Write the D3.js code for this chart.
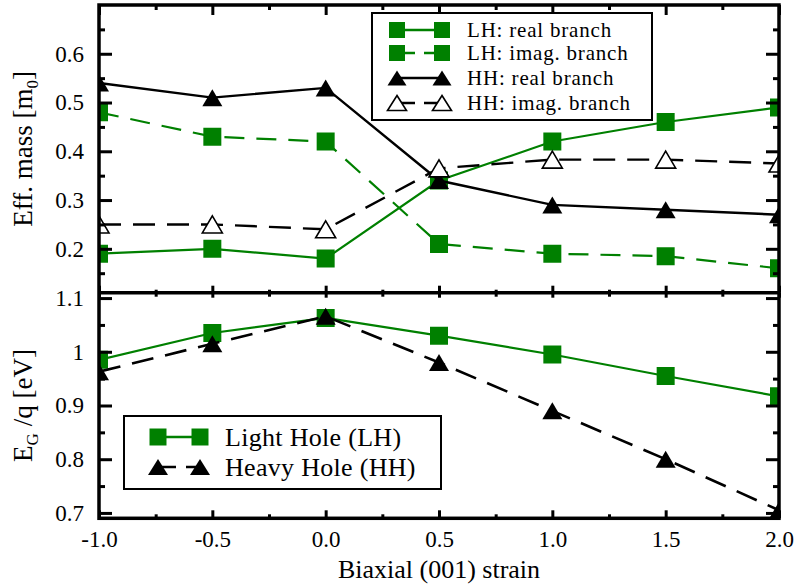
<!DOCTYPE html>
<meta charset="utf-8">
<style>
    body { margin: 0; background: #fff; }
    svg text { font-family: "Liberation Serif", "Times New Roman", serif; fill: #000; }
    .tick text { font-size: 23px; }
    .domain { display: none; }
    .tick line { stroke: #000; stroke-width: 3px; }
</style>
<script src="https://d3js.org/d3.v7.min.js"></script>
<svg width="795" height="587"></svg>
<script>
    // strain values and series
    var strain = [-1.0, -0.5, 0.0, 0.5, 1.0, 1.5, 2.0];
    var lhReal = [0.19, 0.20, 0.18, 0.34, 0.42, 0.46, 0.49];
    var lhImag = [0.48, 0.43, 0.42, 0.21, 0.19, 0.185, 0.16];
    var hhReal = [0.54, 0.51, 0.53, 0.34, 0.29, 0.28, 0.27];
    var hhImag = [0.25, 0.25, 0.24, 0.365, 0.383, 0.383, 0.375];
    var lhGap = [0.985, 1.035, 1.063, 1.03, 0.995, 0.955, 0.917];
    var hhGap = [0.963, 1.015, 1.066, 0.98, 0.89, 0.80, 0.705];

    var xTicks = [-1.0, -0.5, 0.0, 0.5, 1.0, 1.5, 2.0];
    var xMinor = [-0.75, -0.25, 0.25, 0.75, 1.25, 1.75];
    var massTicks = [0.2, 0.3, 0.4, 0.5, 0.6];
    var massMinor = [0.15, 0.25, 0.35, 0.45, 0.55, 0.65];
    var gapTicks = [0.7, 0.8, 0.9, 1.0, 1.1];
    var gapMinor = [0.75, 0.85, 0.95, 1.05];

    var green = "#008000";
    var svg = d3.select("svg");
    var pLeft = 99, pRight = 779, pTop = 5, pMid = 292.7, pBottom = 518.3;

    var x = d3.scaleLinear().domain([-1, 2]).range([pLeft, pRight]);
    var yMass = d3.scaleLinear().domain([0.11, 0.70]).range([pMid, pTop]);
    var yGap = d3.scaleLinear().domain([0.69, 1.11]).range([pBottom, pMid]);

    var defs = svg.append("defs");
    defs.append("clipPath").attr("id", "clipTop").append("rect")
        .attr("x", pLeft).attr("y", pTop).attr("width", pRight - pLeft).attr("height", pMid - pTop);
    defs.append("clipPath").attr("id", "clipBot").append("rect")
        .attr("x", pLeft).attr("y", pMid).attr("width", pRight - pLeft).attr("height", pBottom - pMid);

    function tri(w, h) {
        return "M0," + (-h / 2) + "L" + (w / 2) + "," + (h / 2) + "L" + (-w / 2) + "," + (h / 2) + "Z";
    }
    function sq(s) {
        return "M" + (-s / 2) + "," + (-s / 2) + "h" + s + "v" + s + "h" + (-s) + "Z";
    }

    function series(g, y, vals, opt) {
        var pts = strain.map(function (s, i) { return [s, vals[i]]; });
        var line = d3.line().x(function (d) { return x(d[0]); }).y(function (d) { return y(d[1]); });
        g.append("path").datum(pts)
            .attr("d", line)
            .attr("fill", "none")
            .attr("stroke", opt.color)
            .attr("stroke-width", opt.width)
            .attr("stroke-dasharray", opt.dash || null);
        g.selectAll(null).data(pts).enter().append("path")
            .attr("transform", function (d) { return "translate(" + x(d[0]) + "," + y(d[1]) + ")"; })
            .attr("d", opt.shape)
            .attr("fill", opt.fill)
            .attr("stroke", opt.stroke || "none")
            .attr("stroke-width", 1.6);
    }

    // top panel: effective mass
    var gTop = svg.append("g").attr("clip-path", "url(#clipTop)");
    series(gTop, yMass, lhReal, {color: green, width: 2.2, shape: sq(18), fill: green});
    series(gTop, yMass, lhImag, {color: green, width: 2.2, dash: "20,12", shape: sq(18), fill: green});
    series(gTop, yMass, hhReal, {color: "#000", width: 2.4, shape: tri(20, 17), fill: "#000"});
    series(gTop, yMass, hhImag, {color: "#000", width: 2.4, dash: "22,12", shape: tri(20, 17), fill: "#fff", stroke: "#000"});

    // bottom panel: band gap
    var gBot = svg.append("g").attr("clip-path", "url(#clipBot)");
    series(gBot, yGap, lhGap, {color: green, width: 2.2, shape: sq(18), fill: green});
    series(gBot, yGap, hhGap, {color: "#000", width: 2.6, dash: "22,12", shape: tri(20, 17), fill: "#000"});

    // axes
    var fmtX = function (d) { return d.toFixed(1); };
    var fmtGap = function (d) { return String(+d.toFixed(1)); };

    svg.append("g").attr("transform", "translate(0," + pBottom + ")")
        .call(d3.axisBottom(x).tickValues(xTicks).tickSizeInner(-8).tickSizeOuter(0).tickPadding(12).tickFormat(fmtX));
    svg.append("g").attr("transform", "translate(0," + pBottom + ")")
        .call(d3.axisBottom(x).tickValues(xMinor).tickSizeInner(-4).tickSizeOuter(0).tickFormat(""));
    svg.append("g").attr("transform", "translate(0," + pTop + ")")
        .call(d3.axisTop(x).tickValues(xTicks).tickSizeInner(-10).tickSizeOuter(0).tickFormat(""));
    svg.append("g").attr("transform", "translate(0," + pTop + ")")
        .call(d3.axisTop(x).tickValues(xMinor).tickSizeInner(-5).tickSizeOuter(0).tickFormat(""));
    // ticks crossing the divider
    svg.append("g").attr("transform", "translate(0," + pMid + ")")
        .call(d3.axisTop(x).tickValues(xTicks).tickSizeInner(7).tickSizeOuter(0).tickFormat(""));
    svg.append("g").attr("transform", "translate(0," + pMid + ")")
        .call(d3.axisBottom(x).tickValues(xTicks).tickSizeInner(5).tickSizeOuter(0).tickFormat(""));
    svg.append("g").attr("transform", "translate(0," + pMid + ")")
        .call(d3.axisTop(x).tickValues(xMinor).tickSizeInner(3).tickSizeOuter(0).tickFormat(""));
    svg.append("g").attr("transform", "translate(0," + pMid + ")")
        .call(d3.axisBottom(x).tickValues(xMinor).tickSizeInner(4).tickSizeOuter(0).tickFormat(""));

    function yAxes(y, major, minor, fmt) {
        svg.append("g").attr("transform", "translate(" + pLeft + ",0)")
            .call(d3.axisLeft(y).tickValues(major).tickSizeInner(-13).tickSizeOuter(0).tickPadding(15).tickFormat(fmt));
        svg.append("g").attr("transform", "translate(" + pLeft + ",0)")
            .call(d3.axisLeft(y).tickValues(minor).tickSizeInner(-6).tickSizeOuter(0).tickFormat(""));
        svg.append("g").attr("transform", "translate(" + pRight + ",0)")
            .call(d3.axisRight(y).tickValues(major).tickSizeInner(-13).tickSizeOuter(0).tickFormat(""));
        svg.append("g").attr("transform", "translate(" + pRight + ",0)")
            .call(d3.axisRight(y).tickValues(minor).tickSizeInner(-6).tickSizeOuter(0).tickFormat(""));
    }
    yAxes(yMass, massTicks, massMinor, fmtX);
    yAxes(yGap, gapTicks, gapMinor, fmtGap);

    // frame
    svg.append("rect").attr("x", pLeft).attr("y", pTop).attr("width", pRight - pLeft).attr("height", pBottom - pTop)
        .attr("fill", "none").attr("stroke", "#000").attr("stroke-width", 3.5);
    svg.append("line").attr("x1", pLeft).attr("x2", pRight).attr("y1", pMid).attr("y2", pMid)
        .attr("stroke", "#000").attr("stroke-width", 3.5);

    // axis titles
    svg.append("text").attr("x", (pLeft + pRight) / 2).attr("y", 578)
        .attr("text-anchor", "middle").style("font-size", "26px")
        .text("Biaxial (001) strain");

    var t1 = svg.append("text").attr("transform", "translate(32," + (pTop + pMid) / 2 + ") rotate(-90)")
        .attr("text-anchor", "middle").style("font-size", "27px");
    t1.append("tspan").text("Eff. mass [m");
    t1.append("tspan").attr("dy", 6).style("font-size", "17px").text("0");
    t1.append("tspan").attr("dy", -6).text("]");

    var t2 = svg.append("text").attr("transform", "translate(32," + (pMid + pBottom) / 2 + ") rotate(-90)")
        .attr("text-anchor", "middle").style("font-size", "27px");
    t2.append("tspan").text("E");
    t2.append("tspan").attr("dy", 6).style("font-size", "17px").text("G");
    t2.append("tspan").attr("dy", -6).text(" /q [eV]");

    // legend: effective mass
    var legTop = [
        {label: "LH: real branch", color: green, dash: null, shape: sq(16), fill: green, stroke: "none"},
        {label: "LH: imag. branch", color: green, dash: "18,9", shape: sq(16), fill: green, stroke: "none"},
        {label: "HH: real branch", color: "#000", dash: null, shape: tri(19, 15), fill: "#000", stroke: "none"},
        {label: "HH: imag. branch", color: "#000", dash: "18,9", shape: tri(19, 15), fill: "#fff", stroke: "#000"}
    ];
    var legRowsY = [30, 53, 78, 103];
    svg.append("rect").attr("x", 372).attr("y", 13).attr("width", 280).attr("height", 107)
        .attr("fill", "#fff").attr("stroke", "#000").attr("stroke-width", 2);
    legTop.forEach(function (d, i) {
        var yy = legRowsY[i];
        svg.append("line").attr("x1", 397).attr("x2", 442).attr("y1", yy).attr("y2", yy)
            .attr("stroke", d.color).attr("stroke-width", 2.4).attr("stroke-dasharray", d.dash);
        [397, 442].forEach(function (xx) {
            svg.append("path").attr("transform", "translate(" + xx + "," + yy + ")")
                .attr("d", d.shape).attr("fill", d.fill).attr("stroke", d.stroke).attr("stroke-width", 1.6);
        });
        svg.append("text").attr("x", 467).attr("y", yy + 7).style("font-size", "21px")
            .style("letter-spacing", "0.8px").text(d.label);
    });

    // legend: band gap
    var legBot = [
        {label: "Light Hole (LH)", color: green, dash: null, shape: sq(17), fill: green},
        {label: "Heavy Hole (HH)", color: "#000", dash: "18,10", shape: tri(20, 16), fill: "#000"}
    ];
    var legBotY = [437, 467];
    svg.append("rect").attr("x", 124).attr("y", 416).attr("width", 317).attr("height", 73)
        .attr("fill", "#fff").attr("stroke", "#000").attr("stroke-width", 2);
    legBot.forEach(function (d, i) {
        var yy = legBotY[i];
        svg.append("line").attr("x1", 158).attr("x2", 200).attr("y1", yy).attr("y2", yy)
            .attr("stroke", d.color).attr("stroke-width", 2.4).attr("stroke-dasharray", d.dash);
        [158, 200].forEach(function (xx) {
            svg.append("path").attr("transform", "translate(" + xx + "," + yy + ")")
                .attr("d", d.shape).attr("fill", d.fill);
        });
        svg.append("text").attr("x", 225).attr("y", yy + 9).style("font-size", "26px")
            .style("letter-spacing", "0.3px").text(d.label);
    });
</script>
